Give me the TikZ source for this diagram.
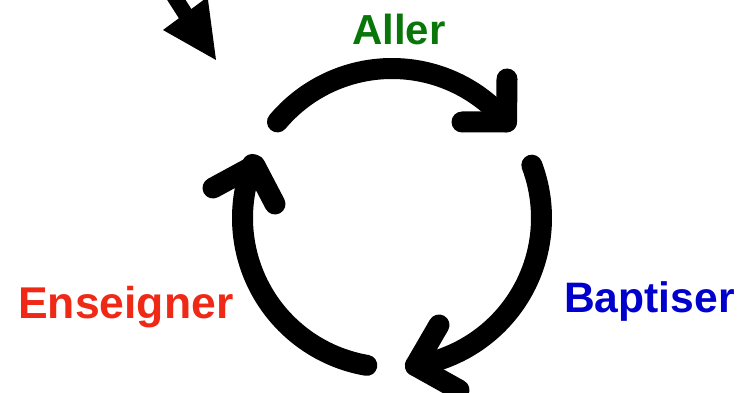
\documentclass[tikz,border=0pt]{standalone}
\usepackage{fontspec}
\usetikzlibrary{calc}
\setmainfont{Liberation Sans}
\definecolor{allergreen}{RGB}{8,118,8}
\definecolor{ensred}{RGB}{240,40,22}
\definecolor{bapblue}{RGB}{0,0,204}
\tikzset{
  cyclearc/.style={draw=black,line width=21pt,line cap=round,line join=round},
  lbl/.style={inner sep=0pt,font=\bfseries,anchor=base west}
}
\begin{document}
\begin{tikzpicture}[x=1pt,y=-1pt]
\path[use as bounding box] (0,0) rectangle (738,393);
\clip (0,0) rectangle (738,393);
\coordinate (c) at (392,218);
% end points of the three arcs, on one circle
\coordinate (a1) at ($(c)+(220:149.5)$);
\coordinate (a2) at ($(c)+(320:149.5)$);
\coordinate (b1) at ($(c)+(339.3:149.5)$);
\coordinate (b2) at ($(c)+(81:149.5)$);
\coordinate (e1) at ($(c)+(99.7:149.5)$);
\coordinate (e2) at ($(c)+(201:147)$);
% arrow-head wings
\coordinate (w1) at (507,79);
\coordinate (w2) at (462,122);
\coordinate (w3) at (439,325);
\coordinate (w4) at (459,390);
\coordinate (w5) at (213,188);
\coordinate (w6) at (275,204);
% arcs
\draw[cyclearc] (a1) arc[start angle=220,end angle=320,radius=149.5];
\draw[cyclearc] (b1) arc[start angle=339.3,end angle=441,radius=149.5];
\draw[cyclearc] (e1) arc[start angle=99.7,end angle=201,radius=149.5];
% arrow heads
\draw[cyclearc] (w1) -- (a2) -- (w2);
\draw[cyclearc] (w3) -- (b2) -- (w4);
\draw[cyclearc] (w5) -- (e2) -- (w6);
% entry arrow
\coordinate (tip) at (216,60);
\coordinate (tail) at (170,-10);
\coordinate (hl) at (163,30);
\coordinate (hr) at (207.6,-3);
\coordinate (hb) at (186,15);
\draw[black,line width=15.5pt] (tail) -- (hb);
\fill[black] (hl) -- (tip) -- (hr) -- cycle;
% labels
\node[lbl,text=allergreen] (aller) at (352,45) {\fontsize{42}{42}\selectfont Aller};
\node[lbl,text=ensred] (ens) at (18,318) {\fontsize{44.5}{44.5}\selectfont Enseigner};
\node[lbl,text=bapblue] (bap) at (564,312) {\fontsize{42.6}{42.6}\selectfont Baptiser};
\end{tikzpicture}
\end{document}
